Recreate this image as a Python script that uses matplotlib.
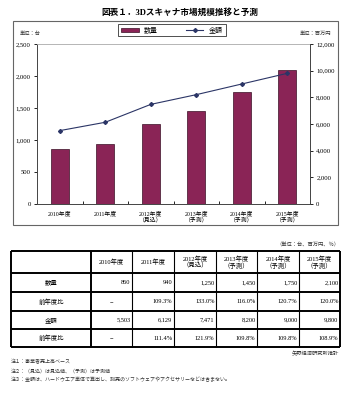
import matplotlib
matplotlib.use("Agg")
import matplotlib.pyplot as plt
from matplotlib.patches import Rectangle, Patch
from matplotlib.lines import Line2D
from matplotlib.ticker import FuncFormatter

plt.rcParams['font.family'] = ['Liberation Serif', 'Noto Sans CJK JP']

title = "図表１．3Dスキャナ市場規模推移と予測"
categories = ["2010年度", "2011年度", "2012年度\n（見込）", "2013年度\n（予測）", "2014年度\n（予測）", "2015年度\n（予測）"]
quantity = [860, 940, 1250, 1450, 1750, 2100]
amount = [5503, 6129, 7471, 8200, 9000, 9800]
qty_ratio = ["−", "109.3%", "133.0%", "116.0%", "120.7%", "120.0%"]
amt_ratio = ["−", "111.4%", "121.9%", "109.8%", "109.8%", "108.9%"]
row_labels = ["数量", "前年度比", "金額", "前年度比"]
left_ticks = [0, 500, 1000, 1500, 2000, 2500]
right_ticks = [0, 2000, 4000, 6000, 8000, 10000, 12000]
legend_labels = ["数量", "金額"]
unit_left = "単位：台"
unit_right = "単位：百万円"
table_unit = "（単位：台、百万円、％）"
source = "矢野経済研究所推計"
notes = ["注１：事業者売上高ベース",
         "注２：（見込）は見込値、（予測）は予測値",
         "注３：金額は、ハードウエア単体で算出し、別売のソフトウェアやアクセサリーなどは含まない。"]

W, H = 355, 400
fig = plt.figure(figsize=(W / 100, H / 100), dpi=100)

def fx(x):
    return x / W

def fy(y):
    return 1 - y / H

bar_color = "#8a2456"
line_color = "#2b3566"

# background overlay axes in pixel coordinates
bg = fig.add_axes([0, 0, 1, 1])
bg.set_xlim(0, W)
bg.set_ylim(H, 0)
bg.axis("off")

bg.text(180, 12, title, ha="center", va="center", fontsize=6.2, fontweight="bold")
bg.add_patch(Rectangle((13, 21), 325, 204, fill=False, edgecolor="#666666", lw=0.8))
bg.text(30, 34, unit_left, ha="center", va="center", fontsize=3.8, color="#333333")
bg.text(315, 34, unit_right, ha="center", va="center", fontsize=3.8, color="#333333")

# chart axes
x0, x1, y0, y1 = 37, 310, 44, 204
ax = fig.add_axes([fx(x0), fy(y1), fx(x1 - x0), (y1 - y0) / H])
xs = list(range(len(categories)))
ax.bar(xs, quantity, width=0.4, color=bar_color, edgecolor="#3a0f25", linewidth=0.5, zorder=2)
ax.set_xlim(-0.5, len(categories) - 0.5)
ax.set_ylim(0, 2500)
ax.set_yticks(left_ticks)
ax.yaxis.set_major_formatter(FuncFormatter(lambda v, p: f"{int(v):,}"))
ax.set_xticks(xs)
ax.set_xticklabels(categories, fontsize=4.2, linespacing=1.1)
ax.set_xticks([i + 0.5 for i in xs[:-1]], minor=True)
ax.tick_params(axis="x", which="major", length=0, pad=5)
ax.tick_params(axis="x", which="minor", length=2.5, direction="in", width=0.6)
ax.tick_params(axis="y", labelsize=4.8, length=2.5, width=0.6, pad=2)
for s in ["top", "right"]:
    ax.spines[s].set_color("#aaaaaa")
    ax.spines[s].set_linewidth(0.6)
for s in ["left", "bottom"]:
    ax.spines[s].set_color("#444444")
    ax.spines[s].set_linewidth(0.7)

ax2 = ax.twinx()
ax2.plot(xs, amount, color=line_color, lw=0.8, marker="D", markersize=2, zorder=3)
ax2.set_ylim(0, 12000)
ax2.set_yticks(right_ticks)
ax2.yaxis.set_major_formatter(FuncFormatter(lambda v, p: f"{int(v):,}"))
ax2.tick_params(axis="y", labelsize=4.8, length=2.5, width=0.6, pad=2)
ax2.spines["right"].set_color("#444444")
ax2.spines["right"].set_linewidth(0.7)
for s in ["top", "left", "bottom"]:
    ax2.spines[s].set_visible(False)

handles = [Patch(facecolor=bar_color, edgecolor="#3a0f25", linewidth=0.5),
           Line2D([0], [0], color=line_color, lw=0.8, marker="D", markersize=2)]
fig.legend(handles, legend_labels, loc="center", bbox_to_anchor=(fx(172), fy(30)),
           ncol=2, fontsize=5, frameon=True, fancybox=False, edgecolor="#333333",
           handlelength=2.5, handleheight=0.6, columnspacing=4, borderpad=0.4,
           framealpha=1).get_frame().set_linewidth(0.6)

# table
bg.text(339, 245, table_unit, ha="right", va="center", fontsize=3.8, color="#333333")
col_edges = [11, 91, 132, 174, 216, 257, 299, 340]
row_edges = [251, 273, 292, 311, 329, 347]
# horizontal lines
for i, y in enumerate(row_edges):
    bg.plot([col_edges[0], col_edges[-1]], [y, y], color="black", lw=1.4, solid_capstyle="butt")
for j, x in enumerate(col_edges):
    lw = 1.4 if j in (0, 1, len(col_edges) - 1) else 0.8
    bg.plot([x, x], [row_edges[0], row_edges[-1]], color="black", lw=lw, solid_capstyle="butt")

fs = 4.6
ym = (row_edges[0] + row_edges[1]) / 2
for j, c in enumerate(categories):
    cx = (col_edges[j + 1] + col_edges[j + 2]) / 2
    bg.text(cx, ym, c.replace("\n", "\n"), ha="center", va="center", fontsize=fs, linespacing=1.05)

rows = [[f"{v:,}" for v in quantity], qty_ratio, [f"{v:,}" for v in amount], amt_ratio]
for i, (lab, vals) in enumerate(zip(row_labels, rows)):
    yc = (row_edges[i + 1] + row_edges[i + 2]) / 2
    bg.text((col_edges[0] + col_edges[1]) / 2, yc, lab, ha="center", va="center", fontsize=fs)
    for j, v in enumerate(vals):
        if v == "−":
            bg.text((col_edges[j + 1] + col_edges[j + 2]) / 2, yc, v, ha="center", va="center", fontsize=fs)
        else:
            bg.text(col_edges[j + 2] - 1.5, yc, v, ha="right", va="center", fontsize=fs)

bg.text(339, 353, source, ha="right", va="center", fontsize=3.8, color="#333333")
for k, n in enumerate(notes):
    bg.text(11, 362 + k * 9, n, ha="left", va="center", fontsize=3.6, color="#333333")

fig.savefig("out.png", dpi=100)
